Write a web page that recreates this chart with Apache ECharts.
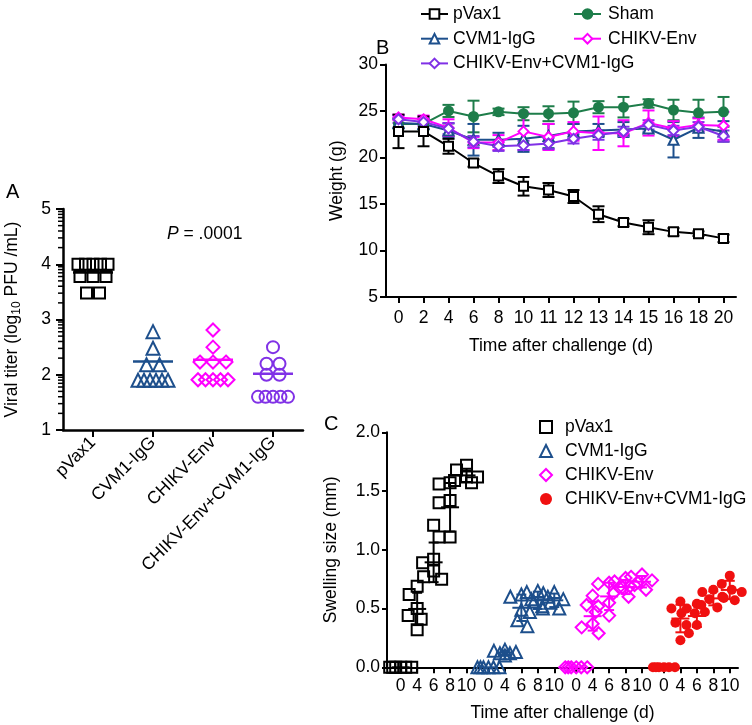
<!DOCTYPE html>
<html><head><meta charset="utf-8">
<script src="https://cdn.jsdelivr.net/npm/echarts@6/dist/echarts.min.js"></script>
<style>html,body{margin:0;padding:0;background:#fff}#c{width:752px;height:725px}</style>
</head><body><div id="c"></div>
<script>
// ---------- Panel A: viral titer (log10 PFU/mL) ----------
const groupsA = ['pVax1', 'CVM1-IgG', 'CHIKV-Env', 'CHIKV-Env+CVM1-IgG'];
const titerPVax1 = [4.0, 4.0, 4.0, 4.0, 4.0, 3.78, 3.78, 3.78, 3.48, 3.48];
const titerCVM1 = [2.78, 2.48, 2.18, 2.18, 1.9, 1.9, 1.9, 1.9, 1.9, 1.9];
const titerEnv = [2.81, 2.5, 2.23, 2.23, 2.23, 1.91, 1.91, 1.91, 1.91, 1.91];
const titerCombo = [2.5, 2.2, 2.2, 2.0, 2.0, 1.6, 1.6, 1.6, 1.6, 1.6];
const titerMeans = [3.85, 2.24, 2.27, 2.02];
const titerTicks = [1, 2, 3, 4, 5];

// ---------- Panel B: weight (g) ----------
const daysB = ['0', '2', '4', '6', '8', '10', '11', '12', '13', '14', '15', '16', '18', '20'];
const weightPVax1 = [22.8, 22.8, 21.2, 19.4, 18.0, 16.9, 16.5, 15.8, 13.9, 13.0, 12.5, 12.0, 11.8, 11.3];
const weightPVax1Err = [1.8, 1.6, 0.8, 0.4, 0.75, 1.0, 0.75, 0.7, 0.85, 0.4, 0.75, 0.4, 0.25, 0.4];
const weightSham = [23.6, 23.6, 25.0, 24.4, 24.9, 24.7, 24.7, 24.8, 25.4, 25.4, 25.8, 25.1, 24.8, 24.9];
const weightShamErr = [0.5, 0.6, 0.65, 1.7, 0.35, 0.7, 0.8, 1.2, 0.65, 1.1, 0.45, 1.1, 1.4, 1.6];
const weightCVM1 = [23.7, 23.6, 22.9, 21.9, 21.9, 22.0, 22.3, 22.8, 22.9, 23.0, 23.1, 21.9, 23.2, 22.8];
const weightCVM1Err = [0.5, 0.5, 0.75, 1.7, 0.75, 1.4, 1.3, 0.8, 0.7, 0.8, 0.4, 1.9, 1.1, 1.1];
const weightEnv = [24.3, 24.1, 23.2, 21.6, 21.6, 22.8, 22.2, 22.8, 22.6, 22.6, 23.7, 23.1, 23.5, 23.4];
const weightEnvErr = [0.3, 0.4, 0.9, 0.6, 0.8, 2.0, 1.4, 1.0, 1.8, 1.4, 1.35, 0.8, 0.7, 1.5];
const weightCombo = [24.1, 23.8, 23.1, 21.7, 21.2, 21.3, 21.5, 22.0, 22.4, 22.8, 23.5, 22.9, 23.3, 22.3];
const weightComboErr = [0.4, 0.4, 0.6, 0.6, 0.5, 0.5, 0.6, 0.5, 0.5, 0.5, 0.5, 0.5, 0.5, 0.6];

// ---------- Panel C: swelling size (mm), per day [0,4,6,8,10] ----------
const daysC = ['0', '4', '6', '8', '10'];
const swellPVax1 = [
  [0, 0, 0, 0, 0, 0],
  [0.69, 0.62, 0.50, 0.44, 0.41, 0.32],
  [1.21, 0.92, 0.89, 0.82, 0.77, 0.75],
  [1.57, 1.56, 1.42, 1.40, 1.11, 1.11],
  [1.72, 1.68, 1.62, 1.62, 1.59, 1.57]
];
const swellCVM1 = [
  [0, 0, 0, 0, 0, 0],
  [0.15, 0.14, 0.13, 0.12, 0.12, 0.10],
  [0.62, 0.60, 0.58, 0.49, 0.40, 0.35],
  [0.65, 0.64, 0.60, 0.56, 0.50, 0.47],
  [0.64, 0.63, 0.58, 0.55, 0.52, 0.50]
];
const swellEnv = [
  [0, 0, 0, 0, 0, 0],
  [0.61, 0.53, 0.47, 0.37, 0.34, 0.29],
  [0.72, 0.71, 0.68, 0.55, 0.52, 0.44],
  [0.76, 0.73, 0.70, 0.68, 0.63, 0.60],
  [0.79, 0.77, 0.74, 0.72, 0.69, 0.66]
];
const swellCombo = [
  [0, 0, 0, 0, 0, 0],
  [0.56, 0.50, 0.46, 0.38, 0.36, 0.23],
  [0.54, 0.50, 0.47, 0.46, 0.36, 0.29],
  [0.66, 0.64, 0.60, 0.58, 0.53, 0.51],
  [0.78, 0.71, 0.66, 0.64, 0.59, 0.57]
];

// ---------- styling ----------
const FONT = 'Liberation Sans, Arial, Helvetica, sans-serif';
const FS = 17.5;
const BLACK = '#000000', BLUE = '#1d4f8c', GREEN = '#1e7d4a', MAGENTA = '#ff00ff', PURPLE = '#8031e6', RED = '#f01010';

// helpers
const mean = a => a.reduce((s, v) => s + v, 0) / a.length;
const sd = a => { const m = mean(a); return a.length > 1 ? Math.sqrt(a.reduce((s, v) => s + (v - m) * (v - m), 0) / (a.length - 1)) : 0; };
function tieOffsets(vals, pxPerUnit) {
  const out = new Array(vals.length), groups = {};
  vals.forEach((v, i) => { const k = v.toFixed(2); (groups[k] = groups[k] || []).push(i); });
  Object.values(groups).forEach(idx => {
    const n = idx.length, step = n > 1 ? Math.min(13, 30 / (n - 1)) : 0;
    idx.forEach((i, j) => { out[i] = (j - (n - 1) / 2) * step / pxPerUnit; });
  });
  return out;
}
function swarm(vals, pxX, pxY, diam, maxOff) {
  const order = vals.map((v, i) => i).sort((a, b) => vals[b] - vals[a]);
  const placed = [], out = new Array(vals.length);
  order.forEach(i => {
    const y = vals[i] * pxY;
    let best = 0, bestD = -1;
    for (let k = 0; k <= maxOff * 2; k++) {
      const off = (k % 2 ? -1 : 1) * Math.ceil(k / 2);
      let dmin = Infinity;
      placed.forEach(p => { const d = Math.hypot(p[0] - off, p[1] - y); if (d < dmin) dmin = d; });
      if (dmin >= diam) { best = off; bestD = dmin; break; }
      if (dmin > bestD) { bestD = dmin; best = off; }
    }
    placed.push([best, y]); out[i] = best / pxX;
  });
  return out;
}
const lineEl = (x1, y1, x2, y2, c, w) => ({ type: 'line', shape: { x1, y1, x2, y2 }, style: { stroke: c, lineWidth: w || 2 } });

const series = [];

// ----- Panel A series -----
const titerSets = [titerPVax1, titerCVM1, titerEnv, titerCombo];
const colorsA = [BLACK, BLUE, MAGENTA, PURPLE];
const symbolsA = ['rect', 'triangle', 'diamond', 'circle'];
const sizesA = [11, 13, 13, 12];
titerSets.forEach((vals, g) => {
  const off = tieOffsets(vals, 60);
  series.push({
    type: 'scatter', name: 'A:' + groupsA[g], xAxisIndex: 1, yAxisIndex: 0, silent: true, clip: false,
    symbol: symbolsA[g], symbolSize: sizesA[g],
    itemStyle: { color: 'rgba(0,0,0,0)', borderColor: colorsA[g], borderWidth: 2, opacity: 1 },
    data: vals.map((v, i) => [g + 0.5 + off[i], v])
  });
});
series.push({
  type: 'custom', name: 'A:mean', xAxisIndex: 1, yAxisIndex: 0, silent: true,
  data: titerMeans.map((m, g) => [g + 0.5, m]),
  renderItem: (p, api) => {
    const c = api.coord([api.value(0), api.value(1)]);
    return lineEl(c[0] - 20, c[1], c[0] + 20, c[1], colorsA[p.dataIndex], 2.5);
  }
});
const titerMinorTicks = [];
titerTicks.slice(0, -1).forEach(t => { [2, 3, 4, 5, 6, 7, 8, 9].forEach(k => titerMinorTicks.push(t + Math.log10(k))); });
series.push({
  type: 'custom', name: 'A:minor', xAxisIndex: 1, yAxisIndex: 0, silent: true,
  data: titerMinorTicks.map(v => [0, v]),
  renderItem: (p, api) => {
    const c = api.coord([0, api.value(1)]);
    return lineEl(c[0] - 5, c[1], c[0], c[1], BLACK, 1.5);
  }
});

// ----- Panel B series -----
function errB(vals, errs, color, name) {
  return {
    type: 'custom', name: 'Berr:' + name, xAxisIndex: 2, yAxisIndex: 1, silent: true,
    data: vals.map((v, i) => [i, v - errs[i], v + errs[i]]),
    renderItem: (p, api) => {
      const lo = api.coord([api.value(0), api.value(1)]);
      const hi = api.coord([api.value(0), api.value(2)]);
      const w = 6;
      return {
        type: 'group', children: [
          lineEl(lo[0], lo[1], hi[0], hi[1], color, 2),
          lineEl(lo[0] - w, lo[1], lo[0] + w, lo[1], color, 2),
          lineEl(hi[0] - w, hi[1], hi[0] + w, hi[1], color, 2)
        ]
      };
    }
  };
}
function lineB(name, vals, color, symbol, size) {
  return {
    type: 'line', name, xAxisIndex: 2, yAxisIndex: 1, data: vals, symbol, symbolSize: size,
    lineStyle: { color, width: 2 }, itemStyle: { color, borderColor: color, borderWidth: 2 }
  };
}
const bSets = [
  ['Sham', weightSham, weightShamErr, GREEN, 'circle', 9],
  ['CVM1-IgG', weightCVM1, weightCVM1Err, BLUE, 'emptyTriangle', 10],
  ['CHIKV-Env', weightEnv, weightEnvErr, MAGENTA, 'emptyDiamond', 10],
  ['CHIKV-Env+CVM1-IgG', weightCombo, weightComboErr, PURPLE, 'emptyDiamond', 10],
  ['pVax1', weightPVax1, weightPVax1Err, BLACK, 'emptyRect', 9]
];
bSets.forEach(s => { series.push(errB(s[1], s[2], s[3], s[0])); series.push(lineB(s[0], s[1], s[3], s[4], s[5])); });

// ----- Panel C series -----
const swellSets = [swellPVax1, swellCVM1, swellEnv, swellCombo];
const colorsC = [BLACK, BLUE, MAGENTA, RED];
const symbolsC = ['rect', 'triangle', 'diamond', 'circle'];
const sizesC = [11, 12, 12, 10];
const SLOTS = 64;
const slotOf = (g, d) => 2 + 16 * g + 3 * d;
const slotLabels = new Array(SLOTS).fill('');
[0, 1, 2, 3].forEach(g => daysC.forEach((lab, d) => { slotLabels[slotOf(g, d)] = lab; }));
const pxXC = 351 / SLOTS, pxYC = 117.5;
swellSets.forEach((days, g) => {
  const pts = [], bars = [];
  days.forEach((vals, d) => {
    const x = slotOf(g, d) + 0.5;
    const off = swarm(vals, pxXC, pxYC, 11, 12);
    vals.forEach((v, i) => pts.push([x + off[i], v]));
    bars.push([x, mean(vals), sd(vals)]);
  });
  series.push({
    type: 'scatter', name: 'C:' + groupsA[g], xAxisIndex: 4, yAxisIndex: 2, clip: false,
    symbol: symbolsC[g], symbolSize: sizesC[g],
    itemStyle: g === 3 ? { color: RED, opacity: 1 } : { color: 'rgba(0,0,0,0)', borderColor: colorsC[g], borderWidth: 2, opacity: 1 },
    data: pts
  });
  const col = colorsC[g];
  series.push({
    type: 'custom', name: 'Cbar:' + g, xAxisIndex: 4, yAxisIndex: 2, silent: true,
    data: bars,
    renderItem: (p, api) => {
      const x = api.value(0), m = api.value(1), s = api.value(2);
      const c = api.coord([x, m]), lo = api.coord([x, m - s]), hi = api.coord([x, m + s]);
      const kids = [lineEl(c[0] - 9, c[1], c[0] + 9, c[1], col, 2)];
      if (s > 0) {
        kids.push(lineEl(lo[0], lo[1], hi[0], hi[1], col, 2));
        kids.push(lineEl(lo[0] - 5, lo[1], lo[0] + 5, lo[1], col, 2));
        kids.push(lineEl(hi[0] - 5, hi[1], hi[0] + 5, hi[1], col, 2));
      }
      return { type: 'group', children: kids };
    }
  });
});

// ---------- axes ----------
const txt = { color: '#000', fontSize: FS, fontFamily: FONT };
const axLine = w => ({ show: true, lineStyle: { color: '#000', width: w } });
const axTick = (len, w) => ({ show: true, inside: false, length: len, lineStyle: { color: '#000', width: w } });

const option = {
  backgroundColor: '#fff',
  animation: false,
  textStyle: { fontFamily: FONT },
  grid: [
    { left: 63, top: 209, width: 240, height: 221 },
    { left: 386, top: 64.4, width: 350, height: 232.6 },
    { left: 387, top: 432.3, width: 351, height: 235 }
  ],
  xAxis: [
    { type: 'category', gridIndex: 0, data: groupsA, boundaryGap: true,
      axisLine: axLine(2.5), axisTick: Object.assign(axTick(7, 2), { alignWithLabel: true }),
      axisLabel: Object.assign({}, txt, { rotate: 45, margin: 10, interval: 0 }), splitLine: { show: false } },
    { type: 'value', gridIndex: 0, min: 0, max: 4, show: false },
    { type: 'category', gridIndex: 1, data: daysB, boundaryGap: true,
      axisLine: axLine(2), axisTick: Object.assign(axTick(6, 2), { alignWithLabel: true, interval: 0 }),
      axisLabel: Object.assign({}, txt, { margin: 12, interval: 0 }),
      name: 'Time after challenge (d)', nameLocation: 'middle', nameGap: 40, nameTextStyle: txt, splitLine: { show: false } },
    { type: 'category', gridIndex: 2, data: slotLabels, boundaryGap: true,
      axisLine: axLine(2), axisTick: Object.assign(axTick(6, 2), { alignWithLabel: true, interval: (i, v) => v !== '' }),
      axisLabel: Object.assign({}, txt, { margin: 10, interval: 0 }),
      name: 'Time after challenge (d)', nameLocation: 'middle', nameGap: 37, nameTextStyle: txt, splitLine: { show: false } },
    { type: 'value', gridIndex: 2, min: 0, max: SLOTS, show: false }
  ],
  yAxis: [
    { type: 'value', gridIndex: 0, min: titerTicks[0], max: titerTicks[titerTicks.length - 1], interval: 1,
      axisLine: axLine(2.5), axisTick: axTick(7, 2), splitLine: { show: false },
      axisLabel: Object.assign({}, txt, { margin: 12 }),
      name: '{n|Viral titer (log}{s|10}{n| PFU /mL)}', nameLocation: 'middle', nameGap: 40,
      nameTextStyle: { rich: { n: { fontSize: FS, fontFamily: FONT, color: '#000' }, s: { fontSize: 12, fontFamily: FONT, color: '#000', padding: [9, 0, 0, 0] } } } },
    { type: 'value', gridIndex: 1, min: 5, max: 30, interval: 5,
      axisLine: axLine(2), axisTick: axTick(6, 2), splitLine: { show: false },
      axisLabel: Object.assign({}, txt, { margin: 8 }),
      name: 'Weight (g)', nameLocation: 'middle', nameGap: 40, nameTextStyle: txt },
    { type: 'value', gridIndex: 2, min: 0, max: 2, interval: 0.5,
      axisLine: axLine(2), axisTick: axTick(5, 2), splitLine: { show: false },
      axisLabel: Object.assign({}, txt, { margin: 7, formatter: v => v.toFixed(1) }),
      name: 'Swelling size (mm)', nameLocation: 'middle', nameGap: 47, nameTextStyle: txt }
  ],
  legend: [
    { orient: 'vertical', left: 415, top: 0, itemWidth: 27, itemHeight: 12, itemGap: 6.7, selectedMode: false,
      data: ['pVax1', 'CVM1-IgG', 'CHIKV-Env+CVM1-IgG'],
      formatter: n => '{t|' + n + '}', textStyle: { rich: { t: Object.assign({}, txt, { lineHeight: 20, padding: [0, 0, 0, 0] }) } } },
    { orient: 'vertical', left: 568, top: 0, itemWidth: 27, itemHeight: 12, itemGap: 6.7, selectedMode: false,
      data: ['Sham', 'CHIKV-Env'],
      formatter: n => '{t|' + n + '}', textStyle: { rich: { t: Object.assign({}, txt, { lineHeight: 20, padding: [0, 0, 0, 2] }) } } },
    { orient: 'vertical', left: 534, top: 413, itemWidth: 12, itemHeight: 12, itemGap: 6, selectedMode: false,
      data: groupsA.map(n => 'C:' + n),
      formatter: n => '{t|' + n.slice(2) + '}', textStyle: { rich: { t: Object.assign({}, txt, { lineHeight: 20, padding: [0, 0, 0, 8] }) } } }
  ],
  graphic: [
    { type: 'text', left: 6, top: 182, style: { text: 'A', fontSize: 20, fontFamily: FONT, fill: '#000' } },
    { type: 'text', left: 376, top: 38, style: { text: 'B', fontSize: 20, fontFamily: FONT, fill: '#000' } },
    { type: 'text', left: 324, top: 414, style: { text: 'C', fontSize: 20, fontFamily: FONT, fill: '#000' } },
    { type: 'text', left: 167, top: 225, style: { text: '{i|P} = .0001', fontSize: FS, fontFamily: FONT, fill: '#000',
      rich: { i: { fontStyle: 'italic', fontSize: FS, fontFamily: FONT, fill: '#000' } } } }
  ],
  series
};
const chart = echarts.init(document.getElementById('c'), null, { renderer: 'canvas' });
chart.setOption(option);
</script></body></html>
